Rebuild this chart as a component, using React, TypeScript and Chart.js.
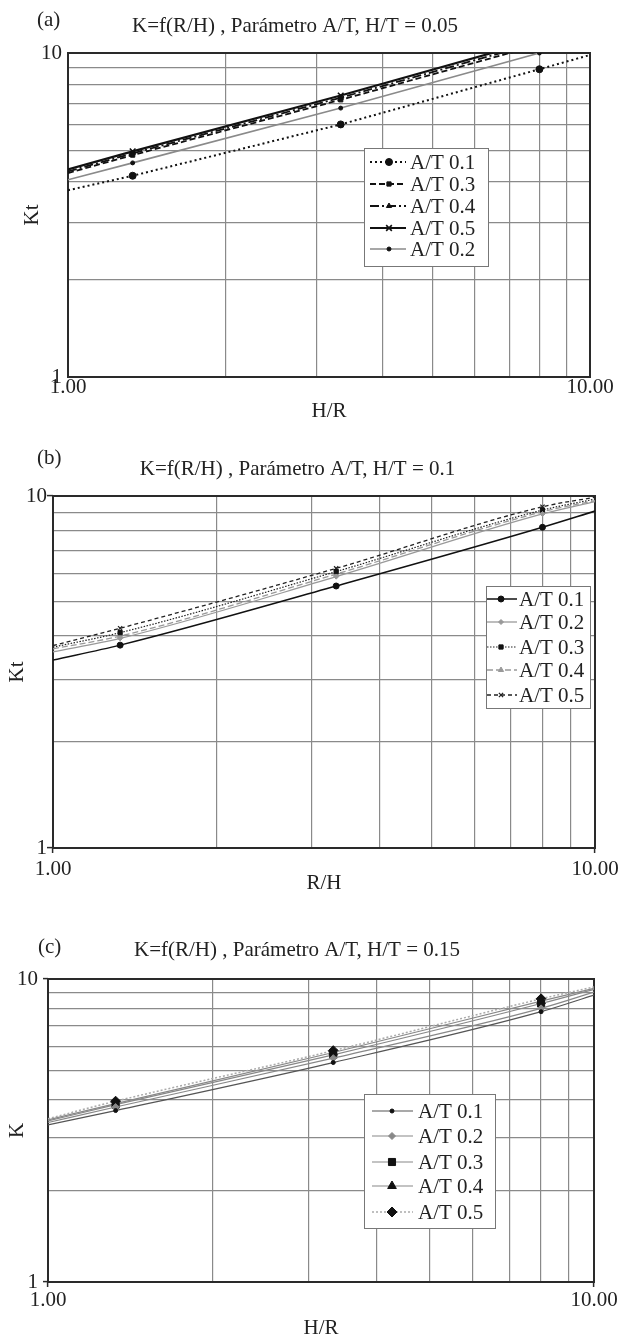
import React, { useEffect, useRef } from 'react';
import { Chart, registerables } from 'chart.js';
import { drawPoint } from 'chart.js/helpers';

Chart.register(...registerables);

const FONT = 'Liberation Serif';
const FONT_SIZE = 21;
const TEXT = '#222';
const FRAME = '#2a2a2a';
const GRID = '#8a8a8a';

// ---------- data ----------
const xValues = [1, 1.33, 3.33, 8, 10];
const markerShown = [false, true, true, true, false];
const logGridValues = [1, 2, 3, 4, 5, 6, 7, 8, 9, 10];
const xTickValues = [1, 10];
const xTickLabels = ['1.00', '10.00'];
const yTickValues = [1, 10];
const yTickLabels = ['1', '10'];

// (a) H/T = 0.05
const aLabels = ['A/T 0.1', 'A/T 0.3', 'A/T 0.4', 'A/T 0.5', 'A/T 0.2'];
const a01 = [3.77, 4.18, 6.02, 8.91, 9.86];
const a03 = [4.26, 4.84, 7.17, 10.6, 11.7];
const a04 = [4.31, 4.9, 7.28, 10.8, 11.9];
const a05 = [4.37, 4.97, 7.39, 11.0, 12.2];
const a02 = [4.06, 4.58, 6.76, 10.0, 11.0];

// (b) H/T = 0.1
const bLabels = ['A/T 0.1', 'A/T 0.2', 'A/T 0.3', 'A/T 0.4', 'A/T 0.5'];
const b01 = [3.42, 3.77, 5.55, 8.15, 9.06];
const b02 = [3.61, 3.94, 5.9, 8.89, 9.64];
const b03 = [3.72, 4.09, 6.1, 9.12, 9.8];
const b04 = [3.68, 4.0, 6.0, 9.02, 9.7];
const b05 = [3.76, 4.21, 6.23, 9.32, 9.92];

// (c) H/T = 0.15
const cLabels = ['A/T 0.1', 'A/T 0.2', 'A/T 0.3', 'A/T 0.4', 'A/T 0.5'];
const c01 = [3.3, 3.68, 5.3, 7.8, 8.85];
const c02 = [3.36, 3.78, 5.48, 8.0, 9.05];
const c03 = [3.4, 3.85, 5.62, 8.3, 9.25];
const c04 = [3.43, 3.88, 5.72, 8.45, 9.32];
const c05 = [3.46, 3.95, 5.8, 8.6, 9.42];

// ---------- styles ----------
type Style = { color: string; width: number; dash: number[]; point: string; radius: number; pointColor: string; pointBorder: number };

const aStyles: Style[] = [
  { color: '#111', width: 2, dash: [2, 3], point: 'circle', radius: 3.5, pointColor: '#111', pointBorder: 1 },
  { color: '#111', width: 1.8, dash: [6, 3], point: 'rect', radius: 3, pointColor: '#111', pointBorder: 1 },
  { color: '#111', width: 1.8, dash: [9, 3, 2, 3], point: 'triangle', radius: 3, pointColor: '#111', pointBorder: 1 },
  { color: '#111', width: 2.2, dash: [], point: 'crossRot', radius: 4, pointColor: '#111', pointBorder: 1.6 },
  { color: '#8a8a8a', width: 1.6, dash: [], point: 'circle', radius: 2, pointColor: '#111', pointBorder: 1 },
];
const bStyles: Style[] = [
  { color: '#111', width: 1.5, dash: [], point: 'circle', radius: 3, pointColor: '#111', pointBorder: 1 },
  { color: '#999', width: 1.3, dash: [], point: 'rectRot', radius: 2.5, pointColor: '#999', pointBorder: 1 },
  { color: '#222', width: 1.2, dash: [1.5, 1.5], point: 'rect', radius: 3, pointColor: '#111', pointBorder: 1 },
  { color: '#999', width: 1.3, dash: [6, 3], point: 'triangle', radius: 3, pointColor: '#999', pointBorder: 1 },
  { color: '#222', width: 1.3, dash: [4, 3], point: 'crossRot', radius: 3, pointColor: '#222', pointBorder: 1.3 },
];
const cStyles: Style[] = [
  { color: '#555', width: 1.2, dash: [], point: 'circle', radius: 2, pointColor: '#111', pointBorder: 1 },
  { color: '#888', width: 1.2, dash: [], point: 'rectRot', radius: 3.5, pointColor: '#888', pointBorder: 1 },
  { color: '#888', width: 1.2, dash: [], point: 'rect', radius: 5, pointColor: '#111', pointBorder: 1 },
  { color: '#888', width: 1.2, dash: [], point: 'triangle', radius: 5, pointColor: '#111', pointBorder: 1 },
  { color: '#aaa', width: 1.5, dash: [2, 2], point: 'rectRot', radius: 5, pointColor: '#111', pointBorder: 1 },
];

type LegendLayout = { box: [number, number, number, number]; rows: number[]; lineX: [number, number]; markerX: number; textX: number };

type PanelCfg = {
  top: number; height: number; left: number; right: number;
  title: string; titlePad: { top: number; bottom: number };
  xTitle: string; xHeight: number; xTickLen: number; xTickPad: number;
  yTitle: string; yTitlePad: number; yTickLen: number; yTickPad: number;
  panelLabel: string; panelLabelPos: [number, number];
  labels: string[]; series: number[][]; styles: Style[]; smooth: boolean;
  legend: LegendLayout;
};

const panels: PanelCfg[] = [
  {
    top: 0, height: 424, left: 68, right: 590,
    title: 'K=f(R/H) , Parámetro A/T, H/T = 0.05', titlePad: { top: 13.4, bottom: 14.4 },
    xTitle: 'H/R', xHeight: 47, xTickLen: 0, xTickPad: -2.6,
    yTitle: 'Kt', yTitlePad: 19.4, yTickLen: 0, yTickPad: 6,
    panelLabel: '(a)', panelLabelPos: [37, 20],
    labels: aLabels, series: [a01, a03, a04, a05, a02], styles: aStyles, smooth: false,
    legend: { box: [364, 148, 488, 266], rows: [162, 184, 206, 228, 249], lineX: [370, 406], markerX: 389, textX: 410 },
  },
  {
    top: 430, height: 466, left: 53, right: 595,
    title: 'K=f(R/H) , Parámetro A/T, H/T = 0.1', titlePad: { top: 26.4, bottom: 14.4 },
    xTitle: 'R/H', xHeight: 48, xTickLen: 5, xTickPad: 3.4,
    yTitle: 'Kt', yTitlePad: 4.9, yTickLen: 6, yTickPad: 0,
    panelLabel: '(b)', panelLabelPos: [37, 28],
    labels: bLabels, series: [b01, b02, b03, b04, b05], styles: bStyles, smooth: true,
    legend: { box: [486, 156, 590, 278], rows: [169, 192, 217, 240, 265], lineX: [487, 517], markerX: 501, textX: 519 },
  },
  {
    top: 900, height: 441, left: 48, right: 594,
    title: 'K=f(R/H) , Parámetro A/T, H/T = 0.15', titlePad: { top: 37.4, bottom: 16.4 },
    xTitle: 'H/R', xHeight: 59, xTickLen: 5, xTickPad: 0.4,
    yTitle: 'K', yTitlePad: 4.4, yTickLen: 5, yTickPad: 5,
    panelLabel: '(c)', panelLabelPos: [38, 47],
    labels: cLabels, series: [c01, c02, c03, c04, c05], styles: cStyles, smooth: true,
    legend: { box: [364, 194, 495, 328], rows: [211, 236, 262, 286, 312], lineX: [372, 413], markerX: 392, textX: 418 },
  },
];

function tickLabel(v: number, values: number[], labels: string[]) {
  const i = values.findIndex((t) => Math.abs(t - v) < 1e-6);
  return i >= 0 ? labels[i] : '';
}
function isLabeled(v: number | undefined, values: number[]) {
  return v !== undefined && values.some((t) => Math.abs(t - v) < 1e-6);
}

function decorPlugin(p: PanelCfg) {
  return {
    id: 'decor',
    beforeDatasetsDraw(chart: any) {
      const { ctx, chartArea: a } = chart;
      ctx.save();
      ctx.strokeStyle = FRAME;
      ctx.lineWidth = 2;
      ctx.strokeRect(a.left, a.top, a.right - a.left, a.bottom - a.top);
      ctx.restore();
    },
    afterDatasetsDraw(chart: any) {
      const { ctx } = chart;
      const L = p.legend;
      ctx.save();
      ctx.fillStyle = '#fff';
      ctx.fillRect(L.box[0], L.box[1], L.box[2] - L.box[0], L.box[3] - L.box[1]);
      ctx.strokeStyle = '#777';
      ctx.lineWidth = 1;
      ctx.strokeRect(L.box[0] + 0.5, L.box[1] + 0.5, L.box[2] - L.box[0], L.box[3] - L.box[1]);
      chart.data.datasets.forEach((ds: any, i: number) => {
        const y = L.rows[i];
        const st = p.styles[i];
        ctx.beginPath();
        ctx.setLineDash(st.dash);
        ctx.strokeStyle = st.color;
        ctx.lineWidth = st.width;
        ctx.moveTo(L.lineX[0], y);
        ctx.lineTo(L.lineX[1], y);
        ctx.stroke();
        ctx.setLineDash([]);
        ctx.fillStyle = st.pointColor;
        ctx.strokeStyle = st.pointColor;
        ctx.lineWidth = st.pointBorder;
        drawPoint(ctx, { pointStyle: st.point as any, radius: st.radius, rotation: 0, borderWidth: st.pointBorder }, L.markerX, y);
        ctx.fillStyle = TEXT;
        ctx.font = `${FONT_SIZE}px "${FONT}"`;
        ctx.textAlign = 'left';
        ctx.textBaseline = 'middle';
        ctx.fillText(ds.label, L.textX, y + 1);
      });
      ctx.font = `${FONT_SIZE}px "${FONT}"`;
      ctx.fillStyle = TEXT;
      ctx.textAlign = 'left';
      ctx.textBaseline = 'middle';
      ctx.fillText(p.panelLabel, p.panelLabelPos[0], p.panelLabelPos[1]);
      ctx.restore();
    },
  };
}

function buildConfig(p: PanelCfg): any {
  const datasets = p.series.map((vals, i) => {
    const st = p.styles[i];
    return {
      label: p.labels[i],
      data: xValues.map((x, k) => ({ x, y: vals[k] })),
      borderColor: st.color,
      borderWidth: st.width,
      borderDash: st.dash,
      pointStyle: st.point,
      pointRadius: markerShown.map((m) => (m ? st.radius : 0)),
      pointBackgroundColor: st.pointColor,
      pointBorderColor: st.pointColor,
      pointBorderWidth: st.pointBorder,
      fill: false,
      tension: 0,
      cubicInterpolationMode: p.smooth ? 'monotone' : 'default',
    };
  });
  const font = { family: FONT, size: FONT_SIZE, weight: 'normal' as const };
  return {
    type: 'line',
    data: { datasets },
    options: {
      responsive: false,
      animation: false,
      events: [],
      layout: { padding: { left: 0, right: 620 - p.right, top: 0, bottom: 0 } },
      plugins: {
        legend: { display: false },
        tooltip: { enabled: false },
        title: { display: true, text: p.title, color: TEXT, font, padding: p.titlePad },
      },
      scales: {
        x: {
          type: 'logarithmic',
          min: 1,
          max: 10,
          afterBuildTicks: (s: any) => { s.ticks = logGridValues.map((v) => ({ value: v })); },
          afterFit: (s: any) => { s.height = p.xHeight; s.paddingLeft = 0; s.paddingRight = 0; },
          border: { display: false },
          grid: {
            color: GRID,
            lineWidth: 1.2,
            drawTicks: p.xTickLen > 0,
            tickLength: p.xTickLen,
            tickWidth: 1.5,
            tickColor: (c: any) => (isLabeled(c.tick?.value, xTickValues) ? FRAME : 'rgba(0,0,0,0)'),
          },
          ticks: {
            autoSkip: false,
            maxRotation: 0,
            minRotation: 0,
            padding: p.xTickPad,
            color: TEXT,
            font,
            callback: (v: number) => tickLabel(v, xTickValues, xTickLabels),
          },
          title: { display: true, text: p.xTitle, color: TEXT, font, padding: { top: 0, bottom: 0 } },
        },
        y: {
          type: 'logarithmic',
          min: 1,
          max: 10,
          afterBuildTicks: (s: any) => { s.ticks = logGridValues.map((v) => ({ value: v })); },
          afterFit: (s: any) => { s.width = p.left; },
          border: { display: false },
          grid: {
            color: GRID,
            lineWidth: 1.2,
            drawTicks: p.yTickLen > 0,
            tickLength: p.yTickLen,
            tickWidth: 1.5,
            tickColor: (c: any) => (isLabeled(c.tick?.value, yTickValues) ? FRAME : 'rgba(0,0,0,0)'),
          },
          ticks: {
            autoSkip: false,
            padding: p.yTickPad,
            color: TEXT,
            font,
            callback: (v: number) => tickLabel(v, yTickValues, yTickLabels),
          },
          title: { display: true, text: p.yTitle, color: TEXT, font, padding: { top: p.yTitlePad, bottom: 0 } },
        },
      },
    },
    plugins: [decorPlugin(p)],
  };
}

function Panel({ p }: { p: PanelCfg }) {
  const ref = useRef<HTMLCanvasElement>(null);
  useEffect(() => {
    if (!ref.current) return;
    const chart = new Chart(ref.current, buildConfig(p));
    return () => chart.destroy();
  }, [p]);
  return (
    <div style={{ position: 'absolute', left: 0, top: p.top, width: 620, height: p.height }}>
      <canvas ref={ref} width={620} height={p.height} style={{ display: 'block', width: 620, height: p.height }} />
    </div>
  );
}

export default function App() {
  return (
    <div style={{ position: 'absolute', left: 0, top: 0, width: 620, height: 1342, background: '#fff', overflow: 'hidden' }}>
      {panels.map((p, i) => (
        <Panel key={i} p={p} />
      ))}
    </div>
  );
}
